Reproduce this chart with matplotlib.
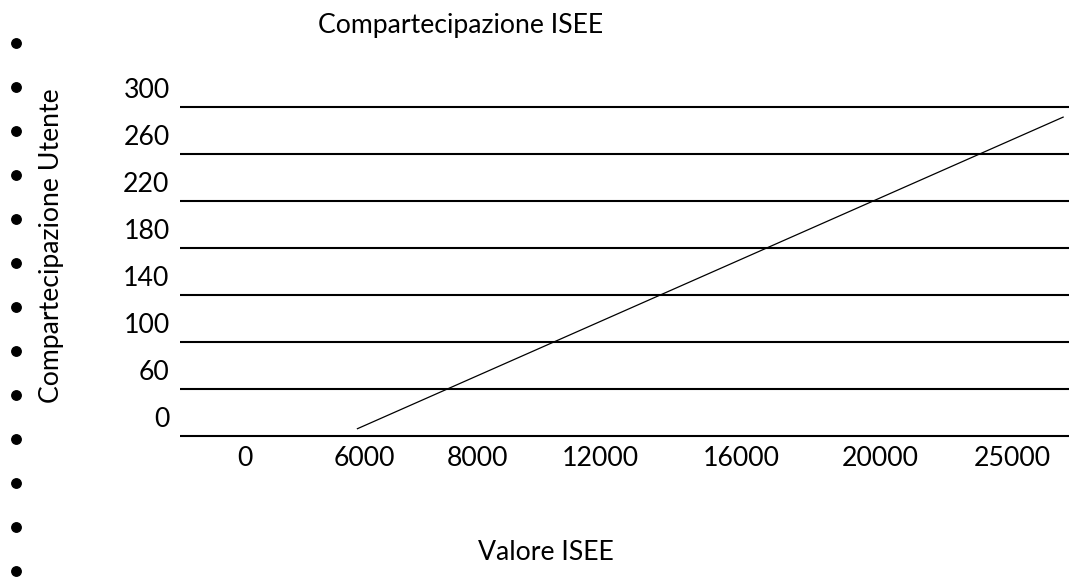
import matplotlib
matplotlib.use("Agg")
import matplotlib.pyplot as plt
from matplotlib.lines import Line2D
import numpy as np

plt.rcParams["font.family"] = ["Lato", "DejaVu Sans"]

# ─── Données ────────────────────────────────────────────────────────────────
y_labels = ["0", "60", "100", "140", "180", "220", "260", "300"]
x_labels = ["0", "6000", "8000", "12000", "16000", "20000", "25000"]
# positions des étiquettes le long de l'axe (unités de case)
x_slots = [0.0, 1.0, 1.95, 2.99, 4.17, 5.34, 6.45]
# droite de compartecipazione (en unités de case x / ligne y)
line_x = [0.94, 6.88]
line_y = [0.15, 6.79]

title = "Compartecipazione ISEE"
xlabel = "Valore ISEE"
ylabel = "Compartecipazione Utente"

W, H = 1069, 577
fig = plt.figure(figsize=(W / 100, H / 100), dpi=100)

# axes placés en pixels
px_left, px_right, px_top, px_bot = 180, 1069, 100, 443
ax = fig.add_axes([px_left / W, 1 - px_bot / H,
                   (px_right - px_left) / W, (px_bot - px_top) / H])
unit_x, x0 = 119.0, 245.0
unit_y, y0 = 47.0, 436.0
ax.set_xlim((px_left - x0) / unit_x, (px_right - x0) / unit_x)
ax.set_ylim((y0 - px_bot) / unit_y, (y0 - px_top) / unit_y)
ax.axis("off")

fs = 19.2
for j, lab in enumerate(y_labels):
    ax.axhline(j, color="black", lw=1.5)
    ax.annotate(lab, xy=(0, j + 0.36), xycoords=("axes fraction", "data"),
                xytext=(-7.5, 0), textcoords="offset points",
                ha="right", va="center", fontsize=fs)

for xs, lab in zip(x_slots, x_labels):
    ax.annotate(lab, xy=(xs, 0), xycoords="data",
                xytext=(0, -15.9), textcoords="offset points",
                ha="center", va="center", fontsize=fs)

ax.plot(line_x, line_y, color="black", lw=0.9, solid_capstyle="butt")

fig.text(461 / W, 1 - 26 / H, title, ha="center", va="center", fontsize=fs)
fig.text(546 / W, 1 - 553 / H, xlabel, ha="center", va="center", fontsize=fs)
fig.text(52 / W, 1 - 246 / H, ylabel, ha="center", va="center",
         rotation=90, fontsize=fs)

# puces de liste à gauche
for i in range(13):
    yb = 43 + 44 * i
    fig.add_artist(Line2D([16 / W], [1 - yb / H], transform=fig.transFigure,
                          marker="o", markersize=6.8, color="black",
                          linestyle="none"))

fig.savefig("out.png", dpi=100, facecolor="white")
